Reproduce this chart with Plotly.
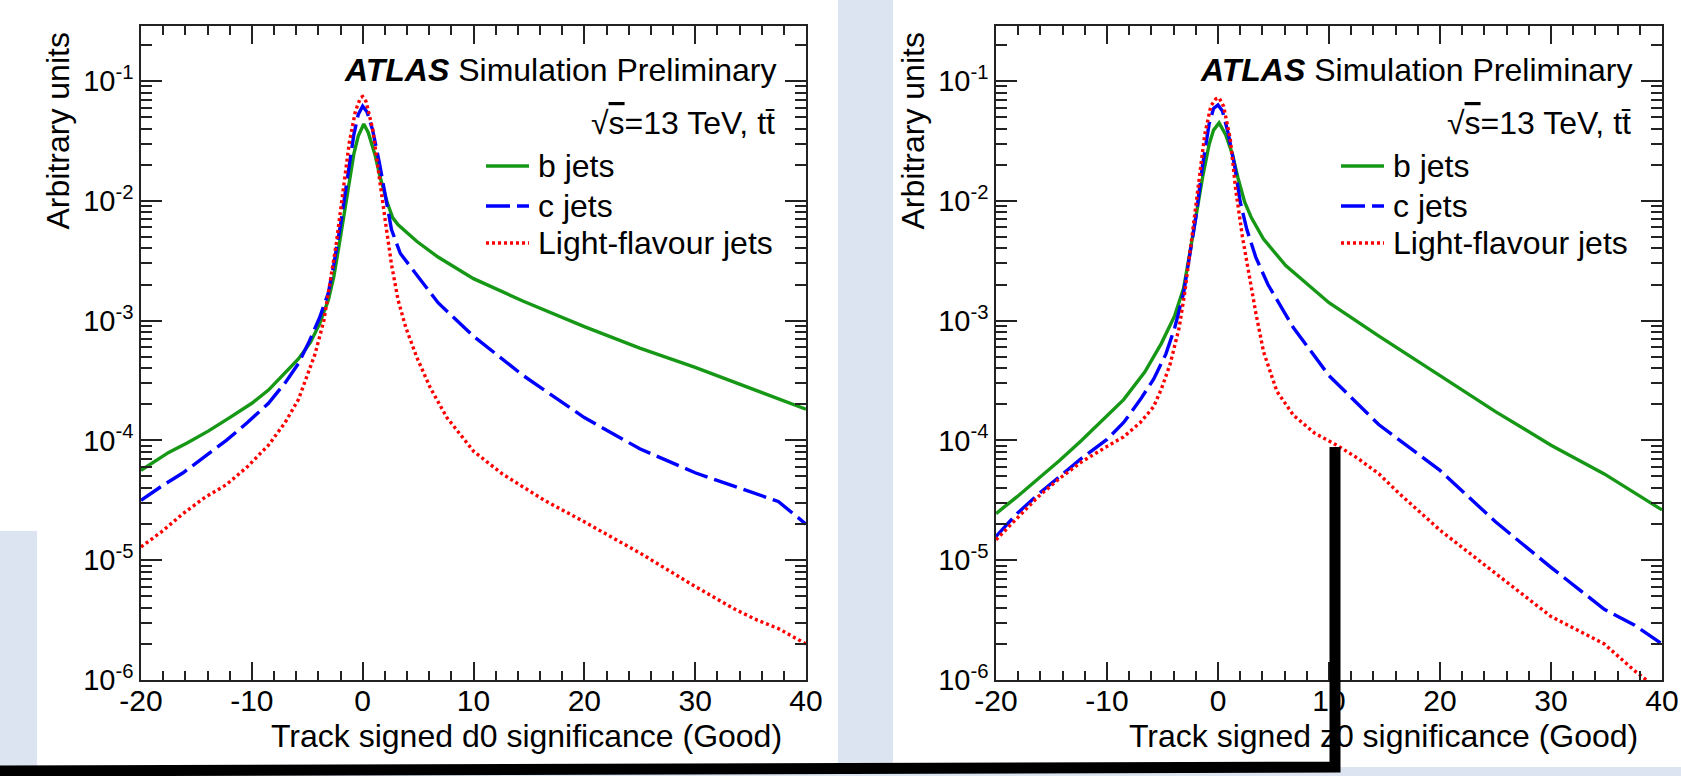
import plotly.graph_objects as go

W, H = 1681, 776

# ---------------- data: track signed d0 significance ----------------
d0_b_x = [-20, -17.5, -15.8, -13.9, -12, -10, -8.5, -7, -5.8, -4.7, -3.9, -3.1, -2.6, -2.0, -1.4,
          -0.8, -0.4, 0.1, 0.5, 1.1, 1.6, 2.2, 2.7, 3.2, 4.9, 6.8, 10, 14.5, 20, 25, 30, 34.8, 40]
d0_b_y = [5.62e-5, 7.94e-5, 9.55e-5, 1.20e-4, 1.55e-4, 2.04e-4, 2.63e-4, 3.63e-4, 4.79e-4, 6.61e-4,
          9.33e-4, 1.48e-3, 2.34e-3, 5.01e-3, 1.07e-2, 2.45e-2, 3.47e-2, 4.37e-2, 3.72e-2, 2.45e-2,
          1.55e-2, 9.77e-3, 7.24e-3, 6.31e-3, 4.57e-3, 3.39e-3, 2.24e-3, 1.45e-3, 8.91e-4, 5.89e-4,
          4.07e-4, 2.75e-4, 1.82e-4]

d0_c_x = [-20, -18.1, -16.2, -14.3, -12.3, -10.4, -8.5, -7, -5.8, -4.9, -3.9, -3.1, -2.6, -2.0, -1.4,
          -0.8, -0.4, 0, 0.4, 0.9, 1.5, 2.0, 2.6, 3.4, 4.5, 6.8, 10, 14.5, 20, 25, 30, 34.8, 37.5, 40]
d0_c_y = [3.16e-5, 4.17e-5, 5.37e-5, 7.24e-5, 1.0e-4, 1.41e-4, 2.04e-4, 3.02e-4, 4.37e-4, 6.46e-4,
          1.05e-3, 1.70e-3, 2.95e-3, 6.31e-3, 1.55e-2, 3.55e-2, 5.25e-2, 6.17e-2, 5.50e-2, 3.89e-2,
          2.09e-2, 1.15e-2, 5.75e-3, 3.63e-3, 2.69e-3, 1.41e-3, 7.41e-4, 3.47e-4, 1.55e-4, 8.51e-5,
          5.37e-5, 3.80e-5, 3.09e-5, 2.0e-5]

d0_l_x = [-20, -18.1, -16.2, -14.3, -12.3, -10.4, -8.5, -7, -5.8, -5.1, -4.3, -3.5, -3.0, -2.4, -1.8,
          -1.2, -0.65, -0.2, 0, 0.3, 0.9, 1.5, 2.0, 2.6, 3.2, 3.9, 4.9, 6.1, 7.6, 10, 12.6, 16.4, 20,
          25, 30, 33.6, 35.6, 37.5, 40]
d0_l_y = [1.29e-5, 1.74e-5, 2.45e-5, 3.31e-5, 4.27e-5, 6.03e-5, 9.12e-5, 1.41e-4, 2.19e-4, 3.24e-4,
          5.25e-4, 1.0e-3, 1.86e-3, 4.27e-3, 1.15e-2, 3.09e-2, 5.62e-2, 7.24e-2, 7.41e-2, 6.76e-2,
          3.98e-2, 1.66e-2, 7.24e-3, 2.95e-3, 1.48e-3, 8.71e-4, 4.90e-4, 2.75e-4, 1.55e-4, 8.13e-5,
          5.25e-5, 3.16e-5, 2.09e-5, 1.15e-5, 6.03e-6, 3.89e-6, 3.16e-6, 2.69e-6, 2.0e-6]

# ---------------- data: track signed z0 significance ----------------
z0_b_x = [-20, -18.1, -16.2, -14.3, -12.3, -10, -8.5, -6.6, -5.1, -3.9, -3.1, -2.6, -2.0, -1.4, -0.8,
          -0.4, 0.1, 0.7, 1.3, 1.8, 2.4, 3.0, 4.1, 6.1, 10, 14.5, 20, 25, 30, 34.8, 40]
z0_b_y = [2.45e-5, 3.39e-5, 4.79e-5, 6.76e-5, 1.0e-4, 1.62e-4, 2.19e-4, 3.72e-4, 6.46e-4, 1.10e-3,
          1.86e-3, 3.39e-3, 7.24e-3, 1.55e-2, 2.95e-2, 3.89e-2, 4.47e-2, 3.55e-2, 2.45e-2, 1.55e-2,
          9.77e-3, 7.24e-3, 4.79e-3, 2.88e-3, 1.41e-3, 7.41e-4, 3.47e-4, 1.74e-4, 9.12e-5, 5.25e-5,
          2.63e-5]

z0_c_x = [-20, -18.1, -16.2, -14.3, -12.3, -10, -8.5, -7, -5.8, -4.7, -3.9, -3.1, -2.6, -2.0, -1.4,
          -0.8, -0.4, 0, 0.4, 0.9, 1.5, 2.0, 2.6, 3.4, 4.5, 6.8, 10, 14.5, 20, 25, 30, 34.8, 37.5, 40]
z0_c_y = [1.58e-5, 2.45e-5, 3.55e-5, 5.01e-5, 7.08e-5, 1.02e-4, 1.41e-4, 2.19e-4, 3.24e-4, 5.25e-4,
          8.71e-4, 1.70e-3, 3.16e-3, 7.24e-3, 1.95e-2, 4.37e-2, 5.89e-2, 6.31e-2, 5.62e-2, 3.72e-2,
          1.95e-2, 9.77e-3, 5.75e-3, 3.39e-3, 2.0e-3, 8.71e-4, 3.47e-4, 1.35e-4, 5.62e-5, 2.09e-5,
          8.71e-6, 3.89e-6, 2.88e-6, 2.0e-6]

z0_l_x = [-20, -18.1, -16.2, -14.3, -12.3, -10, -8.5, -7, -5.8, -5.1, -4.3, -3.5, -3.0, -2.4, -1.8,
          -1.2, -0.65, -0.2, 0.1, 0.5, 1.1, 1.6, 2.2, 2.8, 3.4, 4.1, 5.3, 6.8, 8.7, 10.7, 12.6, 14.5,
          16.4, 20, 25, 30, 34.8, 37.5, 38.6, 40]
z0_l_y = [1.48e-5, 2.24e-5, 3.39e-5, 4.79e-5, 6.61e-5, 8.91e-5, 1.07e-4, 1.41e-4, 1.91e-4, 2.69e-4,
          4.37e-4, 8.71e-4, 1.70e-3, 4.57e-3, 1.35e-2, 3.55e-2, 6.17e-2, 7.08e-2, 7.24e-2, 6.17e-2,
          3.31e-2, 1.23e-2, 5.01e-3, 2.34e-3, 1.17e-3, 5.50e-4, 2.57e-4, 1.62e-4, 1.15e-4, 9.12e-5,
          7.08e-5, 5.25e-5, 3.55e-5, 1.78e-5, 7.76e-6, 3.39e-6, 2.0e-6, 1.20e-6, 1.0e-6, 8.0e-7]

# ---------------- labels ----------------
series_names = ["b jets", "c jets", "Light-flavour jets"]
x_tick_vals = [-20, -10, 0, 10, 20, 30, 40]
x_tick_text = ["-20", "-10", "0", "10", "20", "30", "40"]
y_tick_exps = [-6, -5, -4, -3, -2, -1]
x_titles = ["Track signed d0 significance (Good)", "Track signed z0 significance (Good)"]
y_title = "Arbitrary units"

# ---------------- styling ----------------
FONT = "Liberation Sans, Arial, Helvetica, sans-serif"
GREEN, BLUE, RED = "#169816", "#0000ff", "#ff0000"
PANEL_BLUE = "#dbe4f0"
AXIS_COL = "#222222"
styles = [dict(color=GREEN, width=3.4, dash="solid"),
          dict(color=BLUE, width=3.4, dash="24px,7px"),
          dict(color=RED, width=3.4, dash="3px,3px")]


def fx(p):
    return p / W


def fy(p):
    return 1 - p / H


panels = [
    dict(left=141, right=806, xa="x", ya="y",
         curves=[(d0_b_x, d0_b_y), (d0_c_x, d0_c_y), (d0_l_x, d0_l_y)]),
    dict(left=996, right=1662, xa="x2", ya="y2",
         curves=[(z0_b_x, z0_b_y), (z0_c_x, z0_c_y), (z0_l_x, z0_l_y)]),
]
plot_top, plot_bottom = 26, 680

fig = go.Figure()

for p in panels:
    for (xs, ys), st, name in zip(p["curves"], styles, series_names):
        fig.add_trace(go.Scatter(x=xs, y=ys, mode="lines", name=name, line=st,
                                 xaxis=p["xa"], yaxis=p["ya"], showlegend=False,
                                 hoverinfo="skip"))

x_minor = [v for v in range(-20, 41, 2) if v % 10 != 0]
y_minor = [m * 10.0 ** k for k in range(-6, 0) for m in range(2, 10)]
y_minor = [v for v in y_minor if v < 0.28]
y_tick_vals = [10.0 ** e for e in y_tick_exps]
y_tick_text = ["10<sup>%d</sup>" % e for e in y_tick_exps]

common_x = dict(range=[-20, 40], tickmode="array", tickvals=x_tick_vals, ticktext=x_tick_text,
                ticks="inside", ticklen=18, tickwidth=1.5, tickcolor=AXIS_COL,
                mirror="allticks", showline=True, linecolor=AXIS_COL, linewidth=1.5,
                showgrid=False, zeroline=False, automargin=False, ticklabelstandoff=-7,
                minor=dict(tickmode="array", tickvals=x_minor, ticks="inside", ticklen=9,
                           tickwidth=1.5, tickcolor=AXIS_COL, showgrid=False),
                tickfont=dict(family=FONT, size=30, color="black"))
common_y = dict(type="log", range=[-6, -0.541], tickmode="array", tickvals=y_tick_vals,
                ticktext=y_tick_text, ticks="inside", ticklen=21, tickwidth=1.5,
                tickcolor=AXIS_COL, mirror="allticks", showline=True, linecolor=AXIS_COL,
                linewidth=1.5, showgrid=False, zeroline=False, automargin=False,
                minor=dict(tickmode="array", tickvals=y_minor, ticks="inside", ticklen=11,
                           tickwidth=1.5, tickcolor=AXIS_COL, showgrid=False),
                tickfont=dict(family=FONT, size=29, color="black"))

ydom = [fy(plot_bottom), fy(plot_top)]
fig.update_layout(
    xaxis=dict(common_x, domain=[fx(141), fx(806)], anchor="y"),
    yaxis=dict(common_y, domain=ydom, anchor="x"),
    xaxis2=dict(common_x, domain=[fx(996), fx(1662)], anchor="y2"),
    yaxis2=dict(common_y, domain=ydom, anchor="x2"),
)

shapes = []
# slide background strips
shapes.append(dict(type="rect", xref="paper", yref="paper", x0=fx(0), x1=fx(37),
                   y0=fy(776), y1=fy(531), fillcolor=PANEL_BLUE, line_width=0, layer="below"))
shapes.append(dict(type="rect", xref="paper", yref="paper", x0=fx(838), x1=fx(893),
                   y0=0, y1=1, fillcolor=PANEL_BLUE, line_width=0, layer="below"))
shapes.append(dict(type="rect", xref="paper", yref="paper", x0=0, x1=1,
                   y0=0, y1=fy(767), fillcolor=PANEL_BLUE, line_width=0, layer="below"))

annotations = []
for i, p in enumerate(panels):
    L, R = p["left"], p["right"]
    # axis titles
    annotations.append(dict(text=x_titles[i], xref="paper", yref="paper",
                            x=fx(R - 22), y=fy(736), xanchor="right", yanchor="middle",
                            showarrow=False, font=dict(family=FONT, size=32, color="black")))
    annotations.append(dict(text=y_title, xref="paper", yref="paper", textangle=-90,
                            x=fx(L - 83), y=fy(31), xanchor="center", yanchor="top",
                            showarrow=False, font=dict(family=FONT, size=32, color="black")))
    # labels
    annotations.append(dict(text="<b><i>ATLAS</i></b> Simulation Preliminary", xref="paper",
                            yref="paper", x=fx(R - 27), y=fy(70), xanchor="right",
                            yanchor="middle", showarrow=False,
                            font=dict(family=FONT, size=32, color="black")))
    annotations.append(dict(text="\u221a<span style='text-decoration:overline'>s</span>=13 TeV, tt\u0304",
                            xref="paper", yref="paper", x=fx(R - 29), y=fy(123),
                            xanchor="right", yanchor="middle", showarrow=False,
                            font=dict(family=FONT, size=32, color="black")))
    # legend entries
    for row_y, st, name in zip([166, 206, 243], styles, series_names):
        shapes.append(dict(type="line", xref="paper", yref="paper",
                           x0=fx(L + 345), x1=fx(L + 388), y0=fy(row_y), y1=fy(row_y),
                           line=dict(color=st["color"], width=3.4, dash=st["dash"])))
        annotations.append(dict(text=name, xref="paper", yref="paper", x=fx(L + 395),
                                y=fy(row_y), xanchor="left", yanchor="middle",
                                showarrow=False,
                                font=dict(family=FONT, size=32, color="black")))

# thick black pointer line drawn over the slide
path = "M %.5f,%.5f L %.5f,%.5f L %.5f,%.5f" % (fx(-5), fy(771), fx(1335), fy(767),
                                                 fx(1335), fy(447))
shapes.append(dict(type="path", xref="paper", yref="paper", path=path,
                   line=dict(color="black", width=11), layer="above"))

fig.update_layout(
    width=W, height=H, margin=dict(l=0, r=0, t=0, b=0, autoexpand=False),
    paper_bgcolor="white", plot_bgcolor="white",
    shapes=shapes, annotations=annotations, showlegend=False,
    font=dict(family=FONT, color="black"),
)

fig.write_html("out.html", config={"displayModeBar": False})
